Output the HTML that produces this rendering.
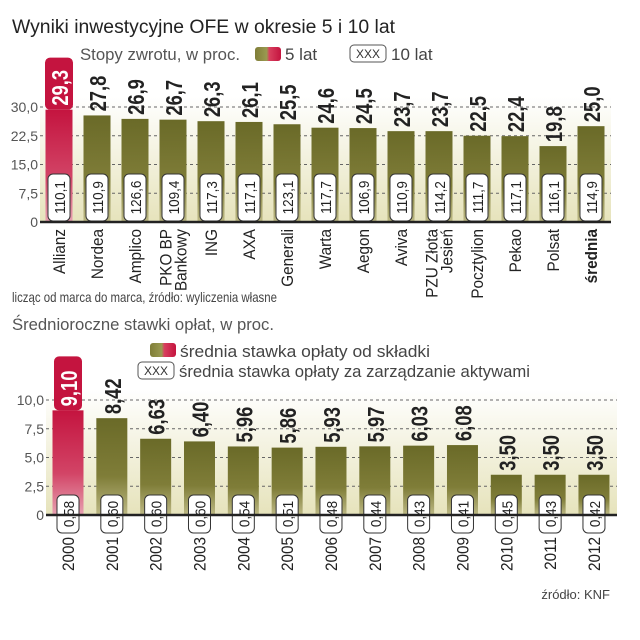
<!DOCTYPE html>
<html><head><meta charset="utf-8">
<style>
html,body{margin:0;padding:0;background:#fff;}
svg{display:block;font-family:"Liberation Sans Narrow","Liberation Sans",sans-serif;}
.t{font-family:"Liberation Sans",sans-serif;}
</style></head>
<body>
<svg id="c" width="640" height="640" viewBox="0 0 640 640" xmlns="http://www.w3.org/2000/svg">
<defs>
<linearGradient id="olive" x1="0" y1="0" x2="0" y2="1"><stop offset="0" stop-color="#6a6a28"/><stop offset="0.6" stop-color="#7f7d38"/><stop offset="1" stop-color="#bdb985"/></linearGradient>
<linearGradient id="red" x1="0" y1="0" x2="0" y2="1"><stop offset="0" stop-color="#c4143f"/><stop offset="0.6" stop-color="#d24466"/><stop offset="1" stop-color="#e7a2b2"/></linearGradient>
<linearGradient id="bg" x1="0" y1="0" x2="0" y2="1"><stop offset="0" stop-color="#ffffff"/><stop offset="1" stop-color="#e6e3bb"/></linearGradient>
<linearGradient id="sw" x1="0" y1="0" x2="1" y2="0"><stop offset="0" stop-color="#7f7d38"/><stop offset="0.45" stop-color="#9a9a50"/><stop offset="0.55" stop-color="#d8405e"/><stop offset="1" stop-color="#c4143f"/></linearGradient>
</defs>
<text class="t" x="12" y="33" font-size="19" fill="#222" textLength="383" lengthAdjust="spacingAndGlyphs">Wyniki inwestycyjne OFE w okresie 5 i 10 lat</text>
<text class="t" x="80" y="60" font-size="17" fill="#555" textLength="160" lengthAdjust="spacingAndGlyphs">Stopy zwrotu, w proc.</text>
<rect x="255" y="47" width="26" height="14" rx="3" fill="url(#sw)"/>
<text class="t" x="285" y="60" font-size="17" fill="#444">5 lat</text>
<rect x="350" y="45" width="36" height="17" rx="4" fill="#fff" stroke="#555"/>
<text x="368" y="58" font-size="12" fill="#333" text-anchor="middle">XXX</text>
<text class="t" x="391" y="60" font-size="17" fill="#444">10 lat</text>
<text x="12" y="302" font-size="14" fill="#444" textLength="265" lengthAdjust="spacingAndGlyphs">licząc od marca do marca, źródło: wyliczenia własne</text>
<text class="t" x="12" y="330" font-size="17" fill="#555" textLength="262" lengthAdjust="spacingAndGlyphs">Średnioroczne stawki opłat, w proc.</text>
<rect x="150" y="343" width="26" height="14" rx="3" fill="url(#sw)"/>
<text class="t" x="180" y="357" font-size="17" fill="#444" textLength="250" lengthAdjust="spacingAndGlyphs">średnia stawka opłaty od składki</text>
<rect x="138" y="362" width="36" height="17" rx="4" fill="#fff" stroke="#555"/>
<text x="156" y="375" font-size="12" fill="#333" text-anchor="middle">XXX</text>
<text class="t" x="179" y="377" font-size="17" fill="#444" textLength="351" lengthAdjust="spacingAndGlyphs">średnia stawka opłaty za zarządzanie aktywami</text>
<text x="610" y="599" font-size="13" fill="#444" text-anchor="end">źródło: KNF</text>
<g id="top"></g>
<g id="bot"></g>
</svg>
<script>
const topCats=["Allianz","Nordea","Amplico","PKO BP|Bankowy","ING","AXA","Generali","Warta","Aegon","Aviva","PZU Złota|Jesień","Pocztylion","Pekao","Polsat","średnia"];
const topVals5=[29.3,27.8,26.9,26.7,26.3,26.1,25.5,24.6,24.5,23.7,23.7,22.5,22.4,19.8,25.0];
const topVals10=[110.1,110.9,126.6,109.4,117.3,117.1,123.1,117.7,106.9,110.9,114.2,111.7,117.1,116.1,114.9];
const topTicks=[0,7.5,15,22.5,30];
const botCats=["2000","2001","2002","2003","2004","2005","2006","2007","2008","2009","2010","2011","2012"];
const botFee=[9.10,8.42,6.63,6.40,5.96,5.86,5.93,5.97,6.03,6.08,3.50,3.50,3.50];
const botAsset=[0.58,0.60,0.60,0.60,0.54,0.51,0.48,0.44,0.43,0.41,0.45,0.43,0.42];
const botTicks=[0,2.5,5,7.5,10];

const NS="http://www.w3.org/2000/svg";
function mk(p,tag,attrs){const e=document.createElementNS(NS,tag);for(const k in attrs)e.setAttribute(k,attrs[k]);p.appendChild(e);return e;}
const fmt=(v,d)=>v.toFixed(d).replace('.',',');

function chart(g,o){
  const y=v=>o.base-v*o.ppu;
  const x=i=>o.x0+i*o.step;
  mk(g,'rect',{x:o.left,y:y(o.ticks[o.ticks.length-1])-10,width:o.right-o.left,height:o.base-y(o.ticks[o.ticks.length-1])+10,fill:'url(#bg)'});
  o.ticks.forEach(t=>{
    if(t>0){const l=mk(g,'line',{x1:o.left,x2:o.right,y1:y(t),y2:y(t),stroke:'#666','stroke-dasharray':'3,3','stroke-width':1});
    
    }
    const tx=mk(g,'text',{x:o.left-2,y:y(t)+5,'font-size':14,fill:'#555','text-anchor':'end'});
    tx.textContent=t===0?'0':fmt(t,1);
    
    
  });
  o.cats.forEach((c,i)=>{
    const cx=x(i),v=o.vals[i],hi=i===0;
    const b=mk(g,'rect',{x:cx-o.bw/2,y:y(v),width:o.bw,height:o.base-y(v),fill:hi?'url(#red)':'url(#olive)'});
    
    
    const label=fmt(v,o.dec);
    const ty=y(v)-4;
    if(hi){
      const w=o.vals===botFee?50:48;
      mk(g,'rect',{x:cx-14,y:ty-w,width:28,height:w+4,rx:5,fill:'#c4143f'});
    }
    const vt=mk(g,'text',{transform:`translate(${cx+9},${ty}) rotate(-90) scale(0.8,1)`,'font-size':o.vfs,'font-weight':'bold',fill:hi?'#fff':'#222'});
    vt.textContent=label;
    
    
    const s=o.sec[i];
    const bx=mk(g,'rect',{x:cx-11,y:o.boxY,width:22,height:o.boxH,rx:5,fill:'#fff',stroke:'#333','stroke-width':1});
    
    
    const st=mk(g,'text',{transform:`translate(${cx+6},${o.boxY+o.boxH/2}) rotate(-90) scale(0.9,1)`,'font-size':15,fill:'#222','text-anchor':'middle'});
    st.textContent=fmt(s,o.sdec);
    
    
    const parts=c.split('|');
    parts.forEach((p,k)=>{
      const off=(k-(parts.length-1)/2)*15;
      const ct=mk(g,'text',{transform:`translate(${cx+6+off},${o.catY}) rotate(-90) scale(0.9,1)`,'font-size':o.cfs,fill:'#222','text-anchor':'end','font-weight':c==='średnia'?'bold':'normal'});
      ct.textContent=p;
      
      
    });
  });
  const ax=mk(g,'line',{x1:o.left,x2:o.right,y1:o.base,y2:o.base,stroke:'#222','stroke-width':2.5});
  
  
}
chart(document.getElementById('top'),{cats:topCats,vals:topVals5,sec:topVals10,ticks:topTicks,base:222,ppu:115/30,x0:59,step:38,bw:27,left:40,right:611,dec:1,sdec:1,vfs:23,boxY:174,boxH:47,catY:229,cfs:17});
chart(document.getElementById('bot'),{cats:botCats,vals:botFee,sec:botAsset,ticks:botTicks,base:515,ppu:11.5,x0:68,step:43.83,bw:31,left:46,right:617,dec:2,sdec:2,vfs:23,boxY:495,boxH:38,catY:537,cfs:17});
</script>
</body></html>
